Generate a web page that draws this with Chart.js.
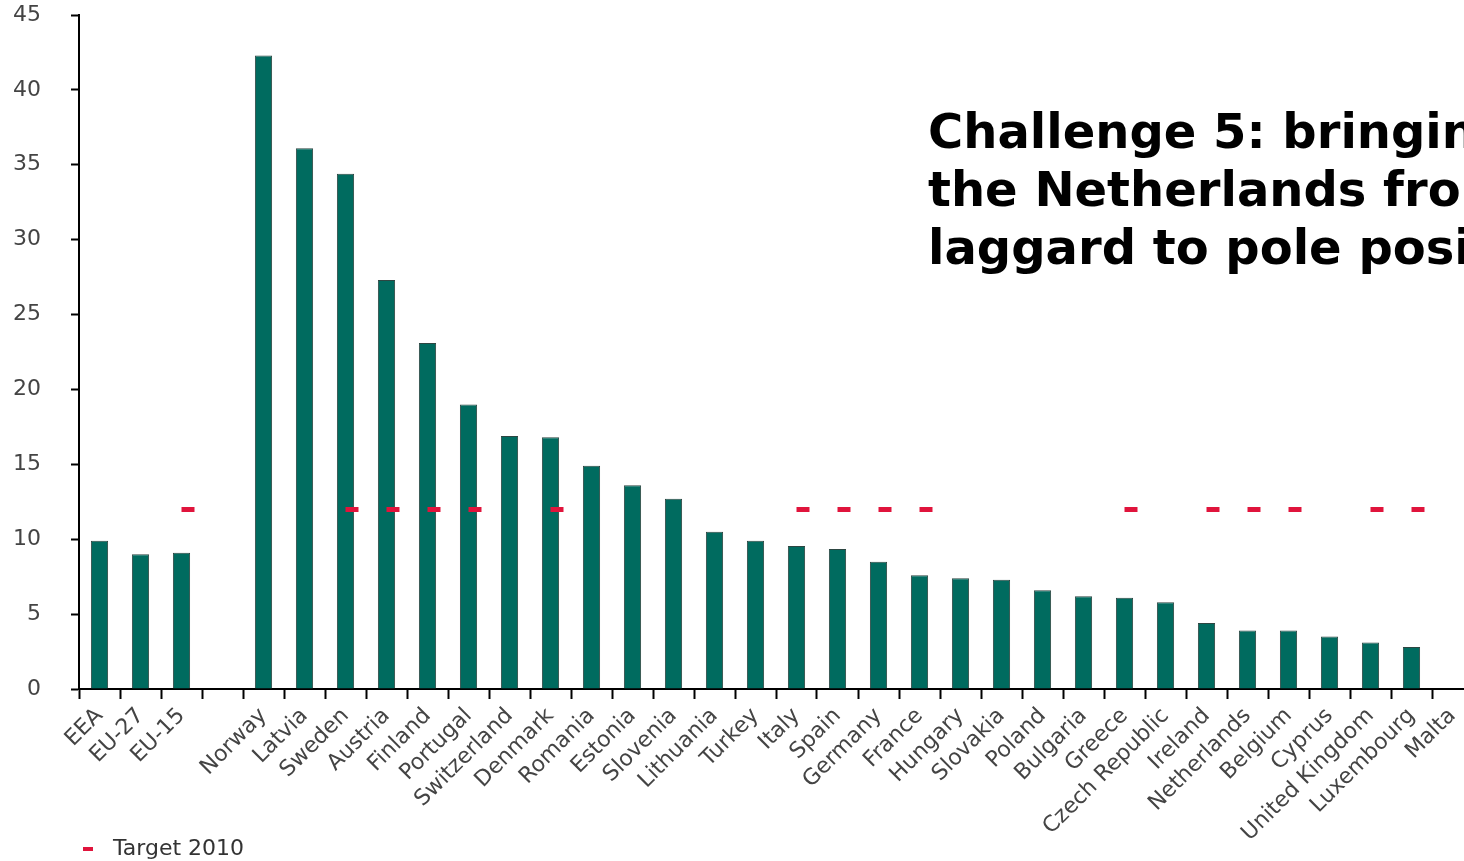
<!DOCTYPE html>
<html>
<head>
<meta charset="utf-8">
<script src="https://cdn.jsdelivr.net/npm/chart.js@4.4.1/dist/chart.umd.min.js"></script>
<style>
  html, body { margin: 0; padding: 0; background: #fff; overflow: hidden; width: 1464px; height: 861px; }
  #wrap { position: relative; width: 1464px; height: 861px; overflow: hidden; }
  #chart { position: absolute; left: 0; top: 0; }
  #title {
    position: absolute; left: 928px; top: 102px;
    font: bold 48px "DejaVu Sans", sans-serif; line-height: 58px;
    color: #000; white-space: nowrap;
  }
  #legend {
    position: absolute; left: 83px; top: 834px;
    font: 22px "DejaVu Sans", sans-serif; color: #333; line-height: 28px; white-space: nowrap;
  }
  #legend .mark { display: inline-block; width: 10px; height: 4px; background: #e0143c; vertical-align: middle; margin-right: 20px; }
</style>
</head>
<body>
<div id="wrap">
  <canvas id="chart" width="1490" height="861"></canvas>
  <div id="title">Challenge 5: bringing<br>the Netherlands from<br>laggard to pole position</div>
  <div id="legend"><span class="mark"></span>Target 2010</div>
</div>
<script>
const countries = ["EEA", "EU-27", "EU-15", "", "Norway", "Latvia", "Sweden", "Austria", "Finland", "Portugal",
  "Switzerland", "Denmark", "Romania", "Estonia", "Slovenia", "Lithuania", "Turkey", "Italy", "Spain", "Germany",
  "France", "Hungary", "Slovakia", "Poland", "Bulgaria", "Greece", "Czech Republic", "Ireland", "Netherlands",
  "Belgium", "Cyprus", "United Kingdom", "Luxembourg", "Malta"];

const share2007 = [9.9, 9.0, 9.1, null, 42.3, 36.1, 34.4, 27.3, 23.1, 19.0,
  16.9, 16.8, 14.9, 13.6, 12.7, 10.5, 9.9, 9.55, 9.35, 8.5,
  7.6, 7.4, 7.3, 6.6, 6.2, 6.1, 5.8, 4.4, 3.9,
  3.9, 3.5, 3.1, 2.8, 0];

const target2010 = [null, null, 12, null, null, null, 12, 12, 12, 12,
  null, 12, null, null, null, null, null, 12, 12, 12,
  12, null, null, null, null, 12, null, 12, 12,
  12, null, 12, 12, null];

const yTicks = [0, 5, 10, 15, 20, 25, 30, 35, 40, 45];

// small red dash, drawn a bit right of the bar centre like in the source
function dashImage() {
  const c = document.createElement("canvas");
  c.width = 28; c.height = 5;
  const g = c.getContext("2d");
  g.fillStyle = "#e0143c";
  g.fillRect(14, 0, 13, 5);
  return c;
}

const tickFont = { family: "DejaVu Sans", size: 22 };

new Chart(document.getElementById("chart"), {
  data: {
    labels: countries,
    datasets: [
      {
        type: "bar",
        label: "Share",
        data: share2007,
        backgroundColor: "#006b5f",
        borderColor: "#2d4642",
        borderWidth: 1,
        categoryPercentage: 1,
        barPercentage: 0.42,
        order: 2
      },
      {
        type: "line",
        label: "Target 2010",
        data: target2010,
        showLine: false,
        pointStyle: dashImage(),
        pointRadius: 6,
        order: 1
      }
    ]
  },
  options: {
    responsive: false,
    animation: false,
    devicePixelRatio: 1,
    layout: { padding: { left: 0, right: 17, top: 15, bottom: 0 } },
    plugins: {
      legend: { display: false },
      tooltip: { enabled: false }
    },
    scales: {
      x: {
        offset: true,
        grid: { offset: true, drawOnChartArea: false, tickLength: 10, tickWidth: 2, tickColor: "#000" },
        border: { display: true, color: "#000", width: 2 },
        ticks: { autoSkip: false, maxRotation: 45, minRotation: 45, color: "#444", font: tickFont, padding: 4 },
        afterFit: s => { s.height = 172; s.paddingLeft = 0; s.paddingRight = 0; }
      },
      y: {
        min: 0,
        max: 45,
        afterBuildTicks: s => { s.ticks = yTicks.map(v => ({ value: v })); },
        grid: { drawOnChartArea: false, tickLength: 8, tickWidth: 2, tickColor: "#000" },
        border: { display: true, color: "#000", width: 2 },
        ticks: { color: "#444", font: tickFont, padding: 30 },
        afterFit: s => { s.width = 79; s.paddingTop = 0; s.paddingBottom = 0; }
      }
    }
  }
});
</script>
</body>
</html>
